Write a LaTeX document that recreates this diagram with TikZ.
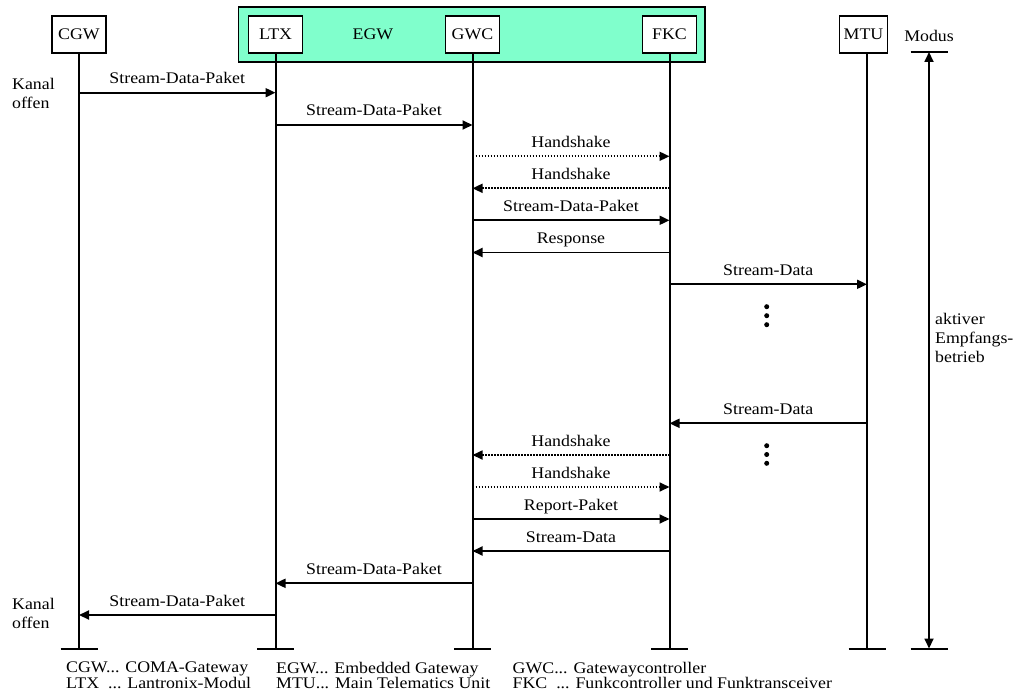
\documentclass[tikz,border=0pt]{standalone}
\usepackage{fontspec}
\setmainfont{Liberation Serif}[FakeStretch=1.1]
\usetikzlibrary{arrows.meta}
\definecolor{egwfill}{RGB}{128,255,204}

% one message between two lifelines: style, from, to, y, label
\newcommand\msgline[5]{%
  \draw[#1] (#2 |- 0,#4) -- (#3 |- 0,#4)
    node[lbl, midway, yshift=9pt] {#5};}

\begin{document}
\begin{tikzpicture}[x=1pt,y=-1pt,
  every node/.style={font=\fontsize{16.2}{19}\selectfont},
  actor/.style={draw, line width=1.8pt, fill=white, minimum width=54pt,
    minimum height=36.5pt, inner sep=2pt},
  life/.style={line width=2pt},
  tip/.style={-{Triangle[length=10pt,width=9pt]}},
  msg/.style={line width=1.9pt, tip},
  hs/.style={msg, line width=1.7pt, dash pattern=on 1.5pt off 1.5pt},
  lbl/.style={anchor=base, inner sep=0pt},
  side/.style={align=left, inner sep=0pt, anchor=west},
  legend/.style={anchor=north west, inner sep=0pt, align=left,
    font=\fontsize{16.2}{13}\selectfont},
  dot/.style={fill, circle, inner sep=0pt, minimum size=5pt},
]
\useasboundingbox (0,0) rectangle (1016,698);

% Embedded Gateway frame
\node[draw, line width=1.8pt, fill=egwfill, minimum width=466.5pt,
  minimum height=54.4pt, inner sep=0pt] (EGW) at (471.8,34.5) {};
\node (EGWlabel) at (373,34.5) {EGW};

% participants
\node[actor] (CGW) at (79,34.5) {CGW};
\node[actor] (LTX) at (275.5,34.5) {LTX};
\node[actor] (GWC) at (472.5,34.5) {GWC};
\node[actor] (FKC) at (669.5,34.5) {FKC};
\node[actor, minimum width=48pt] (MTU) at (863.5,34.5) {MTU};
\node[lbl] (Modus) at (929,41.7) {Modus};

% lifelines with end bars
\foreach \p in {CGW,LTX,GWC,FKC} {
  \draw[life] (\p.south) -- (\p |- 0,648.5) coordinate (\p end);
  \draw[life] ([xshift=-18.5pt]\p end) -- ([xshift=18.5pt]\p end);
}
\coordinate (MTUtop) at (867,52.7);
\coordinate (MTU end) at (867,648.5);
\draw[life] (MTUtop) -- (MTU end);
\draw[life] ([xshift=-18.5pt]MTU end) -- ([xshift=18.5pt]MTU end);

% operating mode span
\coordinate (modtop) at (929,52);
\coordinate (modbot) at (929,648.5);
\draw[life] ([xshift=-18.5pt]modtop) -- ([xshift=18.5pt]modtop);
\draw[life] ([xshift=-18.5pt]modbot) -- ([xshift=18.5pt]modbot);
\draw[line width=1.8pt, {Triangle[length=10pt,width=9pt]}-{Triangle[length=10pt,width=9pt]}]
  (modtop) -- (modbot);
\node[side] (mode) at (935,337.5) {aktiver\\Empfangs-\\betrieb};

% channel state
\node[side] (open1) at (12,93.5) {Kanal\\offen};
\node[side] (open2) at (12,613.5) {Kanal\\offen};

% messages
\msgline{msg}{CGW}{LTX}{92.7}{Stream-Data-Paket}
\msgline{msg}{LTX}{GWC}{125}{Stream-Data-Paket}
\msgline{hs}{GWC}{FKC}{156.3}{Handshake}
\msgline{hs}{FKC}{GWC}{188.3}{Handshake}
\msgline{msg}{GWC}{FKC}{220.3}{Stream-Data-Paket}
\msgline{msg}{FKC}{GWC}{252.5}{Response}
\msgline{msg}{FKC}{MTUtop}{284.3}{Stream-Data}
\msgline{msg}{MTUtop}{FKC}{423.3}{Stream-Data}
\msgline{hs}{FKC}{GWC}{455}{Handshake}
\msgline{hs}{GWC}{FKC}{487}{Handshake}
\msgline{msg}{GWC}{FKC}{519}{Report-Paket}
\msgline{msg}{FKC}{GWC}{551}{Stream-Data}
\msgline{msg}{GWC}{LTX}{583.3}{Stream-Data-Paket}
\msgline{msg}{LTX}{CGW}{615}{Stream-Data-Paket}

% continuation marks
\foreach \y [count=\i] in {306.7,315.7,324.7} \node[dot] (ca\i) at (766.7,\y) {};
\foreach \y [count=\i] in {445.7,454.5,463.3} \node[dot] (cb\i) at (766.7,\y) {};

% legend
\node[legend] (lega) at (66,661.6) {CGW... COMA-Gateway\\LTX\ \ ... Lantronix-Modul};
\node[legend] (legb) at (276,661.6) {EGW... Embedded Gateway\\MTU... Main Telematics Unit};
\node[legend] (legc) at (512.5,661.6) {GWC... Gatewaycontroller\\FKC\ \ ... Funkcontroller und Funktransceiver};
\end{tikzpicture}
\end{document}
